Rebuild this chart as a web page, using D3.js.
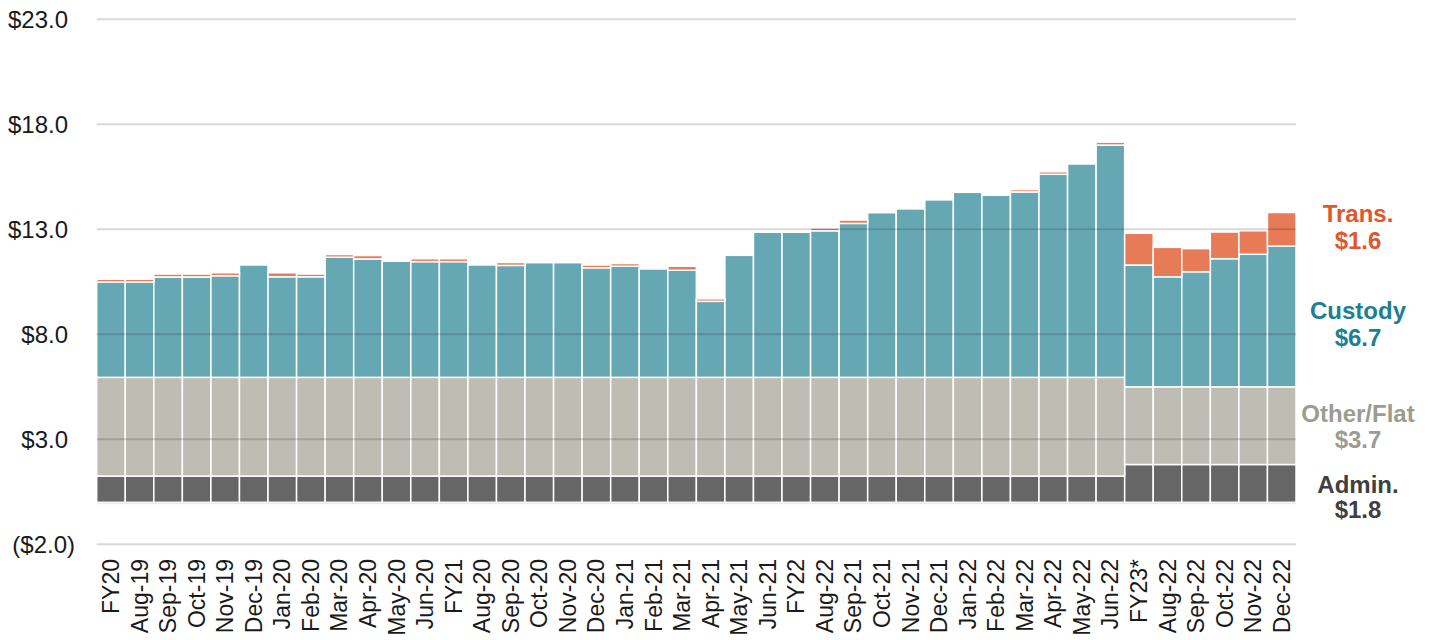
<!DOCTYPE html>
<html>
<head>
<meta charset="utf-8">
<script src="https://cdn.jsdelivr.net/npm/d3@7"></script>
<style>
  html, body { margin: 0; padding: 0; background: #ffffff; }
  svg { display: block; font-family: "Liberation Sans", Arial, sans-serif; }
</style>
</head>
<body>
<svg id="chart" width="1437" height="640"></svg>
<script>
// Period labels along the x axis
const categories = ["FY20","Aug-19","Sep-19","Oct-19","Nov-19","Dec-19","Jan-20","Feb-20","Mar-20","Apr-20","May-20","Jun-20",
  "FY21","Aug-20","Sep-20","Oct-20","Nov-20","Dec-20","Jan-21","Feb-21","Mar-21","Apr-21","May-21","Jun-21",
  "FY22","Aug-22","Sep-21","Oct-21","Nov-21","Dec-21","Jan-22","Feb-22","Mar-22","Apr-22","May-22","Jun-22",
  "FY23*","Aug-22","Sep-22","Oct-22","Nov-22","Dec-22"];

// Stacked components ($)
const admin = [1.25,1.25,1.25,1.25,1.25,1.25,1.25,1.25,1.25,1.25,1.25,1.25,
  1.25,1.25,1.25,1.25,1.25,1.25,1.25,1.25,1.25,1.25,1.25,1.25,
  1.25,1.25,1.25,1.25,1.25,1.25,1.25,1.25,1.25,1.25,1.25,1.25,
  1.8,1.8,1.8,1.8,1.8,1.8];
const other = [4.7,4.7,4.7,4.7,4.7,4.7,4.7,4.7,4.7,4.7,4.7,4.7,
  4.7,4.7,4.7,4.7,4.7,4.7,4.7,4.7,4.7,4.7,4.7,4.7,
  4.7,4.7,4.7,4.7,4.7,4.7,4.7,4.7,4.7,4.7,4.7,4.7,
  3.7,3.7,3.7,3.7,3.7,3.7];
const custody = [4.54,4.54,4.78,4.78,4.84,5.35,4.79,4.79,5.72,5.64,5.53,5.51,
  5.51,5.35,5.33,5.46,5.46,5.22,5.29,5.16,5.10,3.62,5.81,6.91,
  6.91,6.98,7.33,7.84,8.02,8.45,8.81,8.67,8.83,9.67,10.16,11.06,
  5.80,5.24,5.48,6.10,6.31,6.70];
const trans = [0.13,0.13,0.14,0.14,0.14,0.00,0.19,0.13,0.13,0.16,0.00,0.14,
  0.14,0.00,0.14,0.00,0.00,0.13,0.13,0.00,0.19,0.12,0.00,0.00,
  0.00,0.13,0.16,0.00,0.00,0.00,0.00,0.00,0.11,0.12,0.00,0.14,
  1.51,1.40,1.10,1.27,1.12,1.60];

// Y axis ticks
const yTicks = [-2, 3, 8, 13, 18, 23];

// Series names shown on the right
const seriesKeys = ["admin", "other", "custody", "trans"];
const seriesNames = {admin: "Admin.", other: "Other/Flat", custody: "Custody", trans: "Trans."};
const seriesData = {admin, other, custody, trans};

const fills = {admin: "#666666", other: "#bebdb3", custody: "#66a7b4", trans: "#e77a57"};
const textColors = {admin: "#3f3f3f", other: "#9c9c90", custody: "#1d7e94", trans: "#e0572b"};

const svg = d3.select("#chart");

const x = d3.scaleBand()
  .domain(d3.range(categories.length))
  .range([96.7, 1296])
  .padding(0);

const y = d3.scaleLinear()
  .domain([-2, 23])
  .range([544.3, 19.3]);

const rows = categories.map((c, i) => ({i, admin: admin[i], other: other[i], custody: custody[i], trans: trans[i]}));
const stacked = d3.stack().keys(seriesKeys)(rows);

// Bars
const layers = svg.append("g").selectAll("g")
  .data(stacked)
  .join("g")
  .attr("fill", d => fills[d.key]);

layers.selectAll("rect")
  .data(d => d.filter(s => s[1] - s[0] > 0))
  .join("rect")
  .attr("x", d => x(d.data.i))
  .attr("width", x.bandwidth())
  .attr("y", d => y(d[1]))
  .attr("height", d => y(d[0]) - y(d[1]))
  .attr("stroke", "#ffffff")
  .attr("stroke-width", 1.5);

// Gridlines over the bars
svg.append("g").selectAll("line")
  .data(yTicks)
  .join("line")
  .attr("x1", 96.7)
  .attr("x2", 1296)
  .attr("y1", d => y(d))
  .attr("y2", d => y(d))
  .attr("stroke", "rgba(0,0,0,0.15)")
  .attr("stroke-width", 2);

// Zero line
svg.append("line")
  .attr("x1", 96.7).attr("x2", 1296)
  .attr("y1", y(0) + 1).attr("y2", y(0) + 1)
  .attr("stroke", "rgba(0,0,0,0.07)")
  .attr("stroke-width", 2);

// Y axis labels
const fmt = v => v < 0 ? `($${Math.abs(v).toFixed(1)})` : `$${v.toFixed(1)}`;
const yAxis = svg.append("g")
  .attr("transform", "translate(68,0)")
  .call(d3.axisLeft(y).tickValues(yTicks).tickSize(0).tickPadding(0).tickFormat(fmt));
yAxis.select(".domain").remove();
yAxis.selectAll("text")
  .attr("x", d => d < 0 ? 7 : 0)
  .attr("dy", "0.35em")
  .attr("fill", "#1a1a1a")
  .style("font-size", "24px")
  .style("font-family", "'Liberation Sans', Arial, sans-serif");

// X axis labels (rotated)
const xAxis = svg.append("g")
  .attr("transform", "translate(0,559)")
  .call(d3.axisBottom(x).tickSize(0).tickFormat(i => categories[i]));
xAxis.select(".domain").remove();
xAxis.selectAll("text")
  .attr("transform", "rotate(-90)")
  .attr("text-anchor", "end")
  .attr("x", 0)
  .attr("y", 0)
  .attr("dy", "0.35em")
  .attr("fill", "#1a1a1a")
  .style("font-size", "23px")
  .style("font-family", "'Liberation Sans', Arial, sans-serif");

// Series labels with the latest value
const last = categories.length - 1;
const labelPos = {trans: [222, 249], custody: [319, 346], other: [422, 448], admin: [493, 518]};
const labels = svg.append("g")
  .attr("font-weight", "bold")
  .style("font-size", "24px")
  .attr("text-anchor", "middle");
seriesKeys.forEach(k => {
  const t = labels.append("text").attr("fill", textColors[k]);
  t.append("tspan").attr("x", 1358).attr("y", labelPos[k][0]).text(seriesNames[k]);
  t.append("tspan").attr("x", 1358).attr("y", labelPos[k][1]).text(`$${seriesData[k][last].toFixed(1)}`);
});
</script>
</body>
</html>
